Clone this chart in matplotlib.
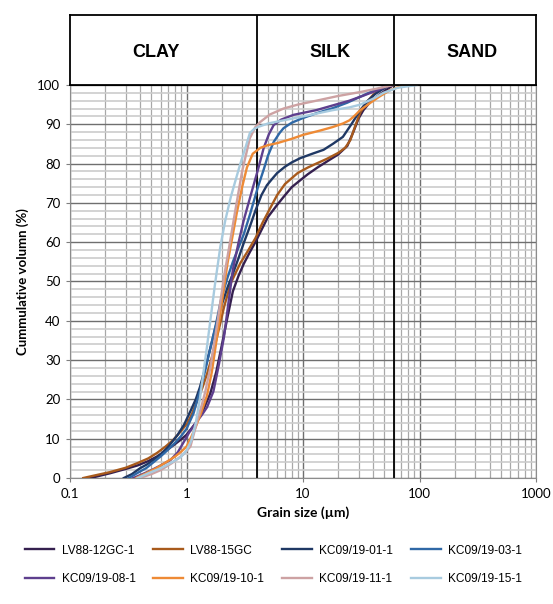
import numpy as np
import matplotlib
matplotlib.use("Agg")
import matplotlib.pyplot as plt
from matplotlib.ticker import FixedLocator, LogLocator, NullFormatter

# grain size (um) / cumulative volume (%)
lv88_12_x = [0.15, 0.22, 0.3, 0.38, 0.47, 0.56, 0.66, 0.77, 0.88, 1.0, 1.2, 1.4, 1.6, 1.8, 2.0, 2.25, 2.5, 2.8, 3.1, 3.5, 3.9,
             5.0, 6.0, 6.8, 8.0, 9.5, 11, 13.3, 17, 20, 24, 27, 30, 33, 38, 45, 52, 60]
lv88_12_y = [0, 1.2, 2.3, 3.2, 4.3, 5.5, 6.9, 8.3, 9.6, 11, 14, 17.5, 21.5, 27, 33.5, 41, 47.5, 51.5, 54.5, 57.5, 60,
             66.4, 69.5, 71.5, 74, 75.8, 77.3, 79, 81, 82.3, 84.5, 88, 91.5, 93.6, 95.8, 97.5, 98.8, 100]

lv88_15_x = [0.13, 0.16, 0.22, 0.3, 0.38, 0.47, 0.56, 0.66, 0.77, 0.9, 1.02, 1.12, 1.24, 1.37, 1.5, 1.7, 1.9, 2.1, 2.4, 2.9, 3.4, 3.9,
             4.5, 5.3, 6.0, 7.0, 9.0, 11, 13, 16, 20, 23, 25.5, 28, 31, 35, 40, 47, 55]
lv88_15_y = [0, 0.6, 1.5, 2.6, 3.8, 5, 6.4, 8, 9.7, 12, 14, 16.5, 19.8, 23, 26.5, 32, 38, 43.5, 49.6, 54.7, 58, 61,
             65, 69, 72, 74.8, 77.6, 79, 80, 81.2, 82.7, 84, 86, 89.5, 93, 95.5, 97.5, 99, 100]

kc01_x = [0.29, 0.34, 0.4, 0.46, 0.52, 0.6, 0.7, 0.84, 0.95, 1.08, 1.2, 1.3, 1.45, 1.6, 1.8, 2.0, 2.25, 2.5, 2.8, 3.1, 3.5, 3.9,
          4.4, 4.9, 5.5, 6.0, 7.0, 8.0, 9.5, 12, 15, 18, 22, 26, 31, 36, 42, 55]
kc01_y = [0, 1, 2.5, 3.5, 4.6, 6, 8, 11, 13.5, 17, 20, 23, 28, 33, 39, 44, 48.5, 52, 56, 59.8, 64, 68,
          72, 74.5, 76.3, 77.6, 79.2, 80.3, 81.4, 82.5, 83.5, 85, 86.8, 90, 93.6, 96, 97.8, 100]

kc03_x = [0.32, 0.38, 0.45, 0.52, 0.6, 0.7, 0.8, 0.9, 1.0, 1.15, 1.3, 1.45, 1.6, 1.8, 2.0, 2.25, 2.5, 2.8, 3.1, 3.5, 4.1,
          4.6, 5.0, 5.6, 6.3, 6.8, 8.0, 10, 13, 18, 24, 31, 40, 55]
kc03_y = [0, 1.3, 2.5, 4, 5.5, 7.3, 9, 10.7, 12.5, 16.5, 22, 27.5, 33, 39.5, 46, 51, 55, 58.7, 62, 67, 74,
          78.5, 82, 85.5, 87.8, 89, 90.4, 91.6, 92.8, 94.1, 95.5, 97, 98.5, 100]

kc08_x = [0.35, 0.42, 0.5, 0.6, 0.73, 0.84, 0.94, 1.05, 1.2, 1.35, 1.5, 1.7, 1.9, 2.1, 2.3, 2.5, 2.8, 3.1, 3.6, 4.1,
          4.6, 5.1, 5.6, 6.5, 8.3, 13, 18, 25, 33, 44, 55]
kc08_y = [0, 1, 2, 3.2, 4.6, 6.5, 9, 11.5, 14, 16, 18, 22, 29, 36, 45, 53, 60, 65.6, 72.5, 78.4,
          84, 87.5, 89.8, 91.2, 92.4, 93.6, 94.8, 96, 97.3, 98.7, 100]

kc10_x = [0.37, 0.45, 0.55, 0.65, 0.8, 0.9, 1.0, 1.1, 1.2, 1.35, 1.5, 1.65, 1.85, 2.05, 2.25, 2.5, 2.7, 3.0, 3.3, 3.7, 4.3,
          5.0, 6.0, 8.0, 10, 14, 18, 22, 25, 28, 31, 38, 45, 56, 68, 80]
kc10_y = [0, 1.2, 2.5, 3.8, 5.5, 6.7, 8, 10.5, 13, 17, 21, 27, 37, 46.5, 54.7, 62, 67.4, 74, 79, 82.5, 84,
          84.7, 85.2, 86.3, 87.3, 88.4, 89.3, 90.2, 91, 92.3, 93.6, 95.5, 97, 98.7, 99.6, 100]

kc11_x = [0.40, 0.5, 0.6, 0.75, 0.94, 1.08, 1.15, 1.25, 1.35, 1.45, 1.6, 1.7, 1.85, 2.0, 2.15, 2.3, 2.6, 3.0, 3.5, 3.9,
          4.3, 5.2, 6.8, 9.0, 13, 20, 31, 45, 60]
kc11_y = [0, 1, 2, 3.8, 6, 8, 11, 15, 18.5, 22, 28, 33, 40, 47, 53, 58, 67.4, 78, 86.5, 89.3,
          90.6, 92.5, 94, 95, 96, 97.2, 98.2, 99.2, 100]

kc15_x = [0.38, 0.47, 0.6, 0.75, 0.89, 1.0, 1.1, 1.2, 1.3, 1.4, 1.5, 1.6, 1.75, 1.95, 2.15, 2.4, 2.65, 2.9, 3.2, 3.5, 3.8,
          4.1, 5.0, 6.8, 10, 18, 25, 31, 40, 49, 65, 95]
kc15_y = [0, 1.2, 2.5, 4, 5.3, 7, 9.5, 14, 20, 27, 33.5, 40, 49, 58.8, 65.5, 71.5, 76, 80, 84, 87.8, 88.8,
          89.3, 90.2, 91, 92, 93.6, 94.3, 95, 96.5, 98, 99.3, 100]

names = ["LV88-12GC-1", "LV88-15GC", "KC09/19-01-1", "KC09/19-03-1",
         "KC09/19-08-1", "KC09/19-10-1", "KC09/19-11-1", "KC09/19-15-1"]
xs = [lv88_12_x, lv88_15_x, kc01_x, kc03_x, kc08_x, kc10_x, kc11_x, kc15_x]
ys = [lv88_12_y, lv88_15_y, kc01_y, kc03_y, kc08_y, kc10_y, kc11_y, kc15_y]
colors = ["#35204f", "#a85a1c", "#1f3864", "#2f68a6",
          "#5e3f8e", "#ee8a35", "#cda2a3", "#a8cbdf"]

# class boundaries (um) and label positions
bounds = [4, 60]
classes = ["CLAY", "SILK", "SAND"]
class_pos = [0.55, 17, 280]

plt.rcParams['font.family'] = ['Lato', 'DejaVu Sans']

fig = plt.figure(figsize=(5.53, 6.04), dpi=100)
ax = fig.add_axes([0.1266, 0.2086, 0.8427, 0.6507])
top = fig.add_axes([0.1266, 0.8593, 0.8427, 0.1159])

lines = []
for x, y, c, n in zip(xs, ys, colors, names):
    l, = ax.plot(x, y, color=c, lw=1.7, label=n, solid_joinstyle='round', zorder=3)
    lines.append(l)

ax.set_xscale('log')
ax.set_xlim(0.1, 1000)
ax.set_ylim(0, 100)
ax.xaxis.set_major_locator(FixedLocator([0.1, 1, 10, 100, 1000]))
ax.set_xticklabels(["0.1", "1", "10", "100", "1000"])
ax.xaxis.set_minor_locator(LogLocator(base=10, subs=np.arange(2, 10)))
ax.xaxis.set_minor_formatter(NullFormatter())
ax.set_yticks(np.arange(0, 101, 10))
ax.set_yticks(np.arange(0, 101, 2), minor=True)
ax.grid(True, which='major', axis='both', color='#6f6f6f', lw=1.0, zorder=1)
ax.grid(True, which='minor', axis='x', color='#a8a8a8', lw=0.9, zorder=1)
ax.grid(True, which='minor', axis='y', color='#cccccc', lw=1.2, zorder=1)
ax.set_axisbelow(True)
ax.tick_params(axis='both', which='major', labelsize=9.5, length=3, color='#7f7f7f', pad=4)
ax.tick_params(axis='both', which='minor', length=0)
for s in ['left', 'bottom', 'right']:
    ax.spines[s].set_color('#8c8c8c')
ax.spines['top'].set_color('black')
ax.spines['top'].set_linewidth(1.3)
for b in bounds:
    ax.axvline(b, color='black', lw=1.3, zorder=2)

ax.set_xlabel("Grain size (\u00b5m)", fontsize=10, fontweight='bold', labelpad=5)
ax.set_ylabel("Cummulative volumn (%)", fontsize=9.5, fontweight='bold', labelpad=6)

# class band on top
top.set_xscale('log')
top.set_xlim(0.1, 1000)
top.set_ylim(0, 1)
top.set_xticks([])
top.set_yticks([])
top.minorticks_off()
for s in top.spines.values():
    s.set_color('black')
    s.set_linewidth(1.3)
for b in bounds:
    top.axvline(b, color='black', lw=1.3)
for t, p in zip(classes, class_pos):
    top.text(p, 0.47, t, ha='center', va='center', fontsize=13, fontweight='bold',
             family='Liberation Sans')

order = [0, 4, 1, 5, 2, 6, 3, 7]
fig.legend([lines[i] for i in order], [names[i] for i in order], ncol=4,
           loc='center', bbox_to_anchor=(0.494, 0.065), frameon=False,
           prop={'family': 'Liberation Sans', 'size': 8.6}, handlelength=2.5,
           columnspacing=1.5, handletextpad=0.6, labelspacing=1.35)

plt.savefig("out.png", dpi=100)
